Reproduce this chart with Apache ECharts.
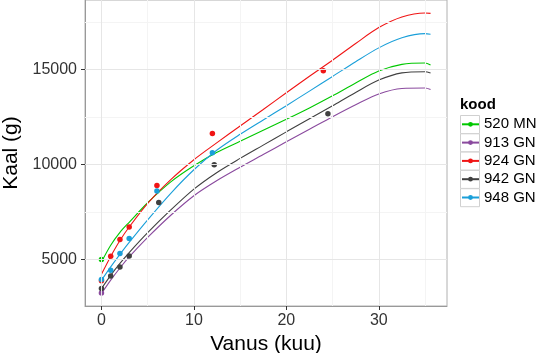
<!DOCTYPE html>
<html>
<head>
<meta charset="utf-8">
<script src="https://cdn.jsdelivr.net/npm/echarts@6/dist/echarts.min.js"></script>
<style>html,body{margin:0;padding:0;background:#fff}#c{width:543px;height:353px}</style>
</head>
<body>
<div id="c"></div>
<script>
// ---- data ----
const groups = ['520 MN', '913 GN', '924 GN', '942 GN', '948 GN'];
const colors = ['#00C800', '#8A4A9E', '#F01515', '#404040', '#1A9FD9'];

// ages at which the fitted curves were read
const curveAges = [0, 1, 2, 3, 5, 7.5, 10, 12.5, 15, 17.5, 20, 22.5, 25, 27.5, 30, 32.5, 35, 35.6];
// fitted curve weights (g) at those ages
const curve520 = [4857, 5739, 6420, 6950, 7980, 9080, 9930, 10640, 11220, 11800, 12380, 12980, 13620, 14300, 14930, 15280, 15350, 15250];
const curve913 = [3189, 3900, 4540, 5120, 6150, 7320, 8350, 9150, 9850, 10520, 11200, 11860, 12520, 13150, 13720, 14010, 14030, 13950];
const curve924 = [4210, 5150, 5990, 6700, 7950, 9200, 10250, 11150, 12030, 12900, 13780, 14650, 15500, 16380, 17220, 17780, 17990, 17970];
const curve942 = [3453, 4150, 4780, 5350, 6400, 7600, 8700, 9580, 10320, 11020, 11720, 12410, 13100, 13800, 14450, 14830, 14890, 14820];
const curve948 = [3891, 4600, 5260, 5890, 7080, 8480, 9720, 10760, 11590, 12350, 13100, 13870, 14640, 15420, 16150, 16680, 16900, 16870];

// observed points [age, weight]
const points520 = [[0,4984]];
const points913 = [[0,3221]];
const points924 = [[0,3870],[1,5158],[2,6040],[3,6705],[6,8891],[12,11637],[24,14942]];
const points942 = [[0,3453],[1,4118],[2,4593],[3,5174],[6.2,7994],[12.2,9979],[24.5,12672]];
const points948 = [[0,3928],[1,4420],[2,5300],[3,6093],[6,8606],[12,10613]];

const xTicks = [0, 10, 20, 30];
const xMinor = [5, 15, 25, 35];
const yTicks = [5000, 10000, 15000];
const yMinor = [7500, 12500, 17500];

const curves = [curve520, curve913, curve924, curve942, curve948];
const pointsAll = [points520, points913, points924, points942, points948];

const FONT = 'Liberation Sans';
const chart = echarts.init(document.getElementById('c'));

const gridLines = [];
xMinor.forEach(v => gridLines.push({xAxis: v, lineStyle: {color: '#F4F4F4', width: 1, type: 'solid'}}));
yMinor.forEach(v => gridLines.push({yAxis: v, lineStyle: {color: '#F4F4F4', width: 1, type: 'solid'}}));
xTicks.forEach(v => gridLines.push({xAxis: v, lineStyle: {color: '#E6E6E6', width: 1, type: 'solid'}}));
yTicks.forEach(v => gridLines.push({yAxis: v, lineStyle: {color: '#E6E6E6', width: 1, type: 'solid'}}));

const series = [{
  type: 'line', data: [], z: 0, silent: true,
  markLine: {silent: true, symbol: 'none', label: {show: false}, animation: false, data: gridLines}
}];
groups.forEach((g, i) => {
  series.push({
    name: g, type: 'line', data: curveAges.map((a, k) => [a, curves[i][k]]),
    smooth: 0.3, symbol: 'circle', showSymbol: false,
    lineStyle: {color: colors[i], width: 1.1}, itemStyle: {color: colors[i]}, z: 3, animation: false
  });
});
groups.forEach((g, i) => {
  series.push({
    name: g, type: 'scatter', data: pointsAll[i], symbolSize: 5.5,
    itemStyle: {color: colors[i], opacity: 1}, z: 4, animation: false
  });
});

const legendBoxes = groups.map((g, i) => ({
  type: 'rect', left: 460, top: 115 + i * 18.3,
  shape: {width: 19, height: 18}, style: {fill: '#fff', stroke: '#D0D0D0', lineWidth: 1}, z: -1
}));

chart.setOption({
  animation: false,
  backgroundColor: '#fff',
  textStyle: {fontFamily: FONT},
  title: [{text: 'kood', left: 460, top: 97, padding: 0, textStyle: {fontFamily: FONT, fontSize: 15, fontWeight: 'bold', color: '#000'}}],
  grid: {left: 85, right: 96, top: 0, bottom: 47, show: true, borderColor: '#B0B0B0', borderWidth: 1, backgroundColor: 'transparent', containLabel: false, outerBoundsMode: 'none'},
  graphic: legendBoxes,
  legend: {
    data: groups, orient: 'vertical', left: 461, top: 115.3, padding: 0,
    itemWidth: 17, itemHeight: 6, itemGap: 0.3,
    lineStyle: {width: 2},
    textStyle: {fontFamily: FONT, fontSize: 15, color: '#000', lineHeight: 18}
  },
  xAxis: {
    type: 'value', min: -1.78, max: 37.38,
    name: 'Vanus (kuu)', nameLocation: 'middle', nameGap: 21,
    nameTextStyle: {fontFamily: FONT, fontSize: 21, color: '#000'},
    axisLine: {show: true, onZero: false, lineStyle: {color: '#999', width: 1}},
    axisTick: {show: true, length: 4, lineStyle: {color: '#333'}, customValues: xTicks},
    axisLabel: {fontFamily: FONT, fontSize: 16, color: '#333', margin: 7, customValues: xTicks},
    splitLine: {show: false}
  },
  yAxis: {
    type: 'value', min: 2534, max: 18675,
    name: 'Kaal (g)', nameLocation: 'middle', nameGap: 53,
    nameTextStyle: {fontFamily: FONT, fontSize: 21, color: '#000'},
    axisLine: {show: true, onZero: false, lineStyle: {color: '#999', width: 1}},
    axisTick: {show: true, length: 4, lineStyle: {color: '#333'}, customValues: yTicks},
    axisLabel: {fontFamily: FONT, fontSize: 16, color: '#333', margin: 8, customValues: yTicks, formatter: v => String(v)},
    splitLine: {show: false}
  },
  series: series
});
</script>
</body>
</html>
